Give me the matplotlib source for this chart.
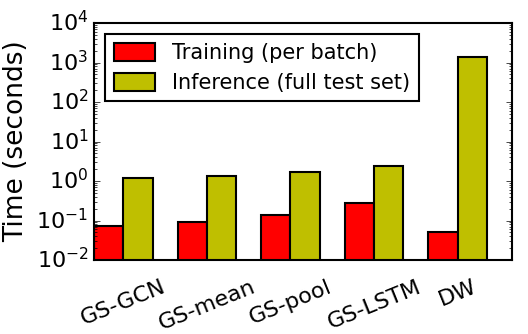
import numpy as np
import matplotlib
matplotlib.use("Agg")
import matplotlib.pyplot as plt

plt.style.use("classic")

models = ["GS-GCN", "GS-mean", "GS-pool", "GS-LSTM", "DW"]
train_time = [0.072, 0.093, 0.135, 0.28, 0.051]
infer_time = [1.2, 1.34, 1.66, 2.45, 1350]

x = np.arange(len(models))
w = 0.35

fig = plt.figure(figsize=(5.28, 3.34), dpi=100)
ax = fig.add_axes([94 / 528, 1 - 260 / 334, 418 / 528, 237 / 334])

ax.bar(x, train_time, w, align="edge", color="#ff0000", edgecolor="black",
       linewidth=1.5, label="Training (per batch)")
ax.bar(x + w, infer_time, w, align="edge", color="#bfbf00", edgecolor="black",
       linewidth=1.5, label="Inference (full test set)")

ax.set_yscale("log")
ax.set_ylim(1e-2, 1e4)
ax.set_xlim(0, len(models))
ax.set_xticks(x + w)
ax.set_xticklabels(models, rotation=22, fontsize=16)
ax.tick_params(axis="x", length=0, pad=12)
ax.tick_params(axis="y", labelsize=16)
ax.set_ylabel("Time (seconds)", fontsize=19)
for s in ax.spines.values():
    s.set_linewidth(1.5)

leg = ax.legend(loc="upper left", fontsize=15, fancybox=False,
                handlelength=2.0, handleheight=1.0, borderaxespad=0.55,
                labelspacing=0.45)
leg.get_frame().set_linewidth(1.5)

fig.savefig("out.png", dpi=100)
